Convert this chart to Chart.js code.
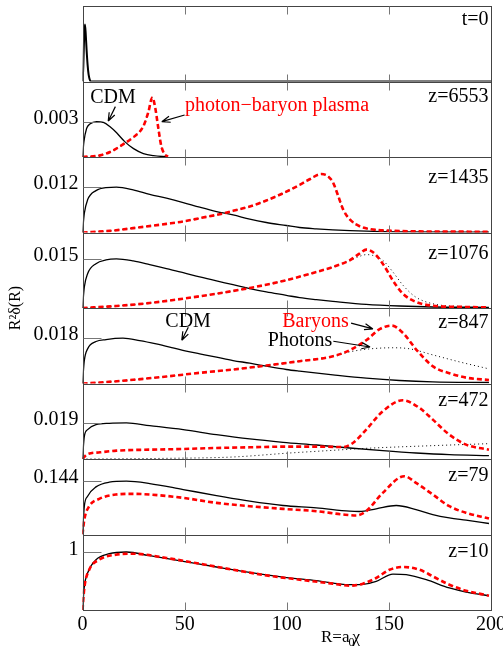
<!DOCTYPE html>
<html>
<head>
<meta charset="utf-8">
<script src="https://cdn.jsdelivr.net/npm/chart.js@4"></script>
<style>
  html, body { margin: 0; padding: 0; background: #fff; }
  canvas { display: block; }
</style>
</head>
<body>
<canvas id="chart" width="503" height="650"></canvas>
<script>
// panels, top to bottom
const panelLabels = ['t=0', 'z=6553', 'z=1435', 'z=1076', 'z=847', 'z=472', 'z=79', 'z=10'];
const tickValues = [null, 0.003, 0.012, 0.015, 0.018, 0.019, 0.144, 1];
const axisMax = [1, 0.00643, 0.02, 0.0231, 0.03, 0.0398, 0.204, 1.31];
const xTicks = [0, 50, 100, 150, 200];

// curves as [R, R^2 delta(R)]
const initial = [[0, 0], [0.4, 0.2], [0.8, 0.6], [1.2, 0.755], [1.6, 0.62], [2, 0.42], [2.5, 0.22], [3, 0.09], [3.5, 0.03], [4, 0], [200, 0]];

const cdm6553 = [[0, 0], [0.7, 0.0013], [2, 0.00243], [3.6, 0.0028], [6.9, 0.003], [10.2, 0.00294], [13.5, 0.00257], [16.7, 0.00206], [20.8, 0.00129], [25, 0.00071], [29.8, 0.00029], [34.7, 0.00011], [41.5, 0.00002]];
const plasma6553 = [[0, 0], [8.6, 0.00014], [13.5, 0.00043], [20, 0.00109], [25, 0.0017], [28, 0.00215], [30, 0.0027], [32.2, 0.0038], [34.2, 0.00506], [35.5, 0.0043], [37, 0.0026], [38.5, 0.001], [40, 0.0003], [41.8, 0.00002]];

const cdm1435 = [[0, 0], [0.9, 0.0051], [2.5, 0.00865], [6.6, 0.0111], [11.5, 0.0119], [16.6, 0.012], [24.8, 0.0113], [32.9, 0.0101], [41.1, 0.00909], [49.3, 0.00794], [57.4, 0.0067], [65.6, 0.00556], [73.7, 0.00468], [81.9, 0.00353], [90, 0.00265], [99.8, 0.00185], [106.3, 0.00132], [114.5, 0.00097], [122.6, 0.00071], [138.9, 0.00035], [155.2, 0.00018], [199, 0.00009]];
const baryon1435 = [[0, 0], [13.5, 0.00044], [24.8, 0.00115], [41.1, 0.00229], [49.3, 0.00291], [57.4, 0.00379], [67.2, 0.00485], [73.7, 0.00574], [81.9, 0.00688], [90, 0.00847], [98.2, 0.0104], [106.3, 0.0126], [111.2, 0.0141], [116.9, 0.0155], [120.4, 0.0148], [122.8, 0.0131], [125.3, 0.0095], [127.7, 0.006], [131, 0.0034], [135.9, 0.0016], [140.8, 0.0009], [150, 0.0005], [165, 0.0003], [199, 0.0002]];

const cdm1076 = [[0, 0], [0.9, 0.00643], [2.5, 0.0105], [6.6, 0.01357], [11.5, 0.0147], [16.6, 0.015], [24.8, 0.01439], [32.9, 0.01327], [41.1, 0.01204], [49.3, 0.01082], [57.4, 0.00949], [65.6, 0.00827], [73.7, 0.00714], [81.9, 0.00592], [90, 0.0049], [99.8, 0.00388], [106.3, 0.00316], [114.5, 0.00255], [122.6, 0.00204], [138.9, 0.00112], [155.2, 0.00061], [171.5, 0.00031], [199, 0.0002]];
const baryon1076 = [[0, 0], [16.6, 0.00061], [32.9, 0.00153], [49.3, 0.00286], [65.6, 0.00439], [81.9, 0.00612], [98.2, 0.00827], [114.5, 0.01102], [122.6, 0.01255], [130.8, 0.01459], [135.6, 0.01663], [138.9, 0.01786], [142.1, 0.01714], [147, 0.01357], [151.9, 0.00847], [156.8, 0.00439], [163.3, 0.00184], [171.5, 0.00071], [187.8, 0.00031], [199, 0.0002]];
const photon1076 = [[0, 0], [16.6, 0.00061], [32.9, 0.00153], [49.3, 0.00286], [65.6, 0.00439], [81.9, 0.00612], [98.2, 0.00827], [114.5, 0.01102], [122.6, 0.01255], [130.8, 0.0145], [135.6, 0.0158], [139, 0.01633], [142, 0.0161], [147, 0.0146], [152, 0.011], [157, 0.0069], [163, 0.0034], [171.5, 0.0013], [188, 0.0004], [199, 0.0002]];

const cdm847 = [[0, 0], [0.9, 0.00913], [2.5, 0.01376], [6.6, 0.01668], [11.5, 0.01747], [19.8, 0.018], [28, 0.01707], [36.1, 0.01575], [44.3, 0.01416], [50.8, 0.01284], [57.4, 0.01178], [65.6, 0.01046], [73.7, 0.00913], [81.9, 0.00807], [90, 0.00688], [99.8, 0.00556], [106.3, 0.0049], [122.6, 0.00344], [138.9, 0.00212], [155.2, 0.00119], [171.5, 0.00066], [199, 0.0004]];
const baryon847 = [[0, 0], [8.6, 0.0004], [24.8, 0.00146], [41.1, 0.00278], [57.4, 0.00424], [73.7, 0.00556], [90, 0.00715], [106.3, 0.00887], [122.6, 0.0108], [131, 0.0133], [139.1, 0.0173], [145.7, 0.0217], [151.4, 0.023], [157, 0.02], [163.6, 0.0133], [171.8, 0.0067], [180, 0.004], [188, 0.0023], [199, 0.0014]];
const photon847 = [[0, 0], [8.6, 0.0004], [24.8, 0.00146], [41.1, 0.00278], [57.4, 0.00424], [73.7, 0.00556], [90, 0.00715], [106.3, 0.00887], [122.6, 0.0108], [131, 0.0126], [140, 0.0137], [152, 0.0142], [160, 0.0138], [171.8, 0.0113], [185, 0.0085], [198, 0.006]];

const cdm472 = [[0, 0], [0.9, 0.01196], [2.5, 0.01548], [6.6, 0.01812], [13.1, 0.01882], [21.5, 0.019], [32.9, 0.01759], [49.3, 0.01548], [65.6, 0.01284], [81.9, 0.01056], [98.2, 0.0088], [114.5, 0.00739], [130.8, 0.00581], [147, 0.0044], [163.3, 0.00317], [179.6, 0.00229], [199, 0.00176]];
const baryon472 = [[0, 0], [2, 0.00229], [8.6, 0.00352], [16.6, 0.0044], [32.9, 0.00493], [49.3, 0.00528], [65.6, 0.00581], [81.9, 0.00616], [98.2, 0.00651], [114.5, 0.00651], [127.5, 0.00633], [132.4, 0.00844], [138.9, 0.01548], [147, 0.02516], [156.8, 0.03096], [165, 0.02692], [171.5, 0.02076], [179.6, 0.01284], [187.8, 0.00756], [199, 0.00493]];
const photon472 = [[0, 0], [41, 0.00035], [73.7, 0.00106], [101.5, 0.00317], [122.6, 0.00457], [138.9, 0.00563], [171.5, 0.00704], [199, 0.00809]];

const cdm79 = [[0, 0], [0.9, 0.0765], [2.5, 0.1035], [6.6, 0.1287], [13.1, 0.1413], [21.5, 0.144], [32.9, 0.1377], [49.3, 0.1215], [65.6, 0.1053], [81.9, 0.09], [98.2, 0.0783], [114.5, 0.072], [130.8, 0.063], [135.6, 0.0621], [143.8, 0.0693], [153.6, 0.0783], [163.3, 0.0675], [171.5, 0.054], [179.6, 0.045], [187.8, 0.0387], [199, 0.0297]];
const baryon79 = [[0, 0], [0.9, 0.0405], [3.3, 0.0765], [8.2, 0.0963], [16.3, 0.108], [24.8, 0.1098], [32.9, 0.108], [49.3, 0.099], [65.6, 0.0855], [81.9, 0.0765], [98.2, 0.0693], [114.5, 0.063], [127.5, 0.054], [134, 0.0513], [138.9, 0.063], [147, 0.1125], [157.6, 0.1575], [163.3, 0.1395], [171.5, 0.108], [179.6, 0.0765], [187.8, 0.0585], [199, 0.0432]];

const cdm10 = [[0, 0], [0.9, 0.41], [2.5, 0.642], [6.6, 0.873], [13.1, 0.977], [21.5, 1.006], [32.9, 0.942], [49.3, 0.844], [65.6, 0.746], [81.9, 0.653], [98.2, 0.572], [114.5, 0.509], [130.8, 0.439], [137.3, 0.445], [143.8, 0.497], [152, 0.624], [158.5, 0.613], [168.3, 0.526], [179.6, 0.382], [187.8, 0.312], [199, 0.249]];
const baryon10 = [[0, 0], [0.9, 0.382], [3.3, 0.699], [8.2, 0.873], [16.3, 0.96], [24.8, 0.977], [41.1, 0.902], [57.4, 0.803], [73.7, 0.699], [90, 0.601], [106.3, 0.526], [122.6, 0.457], [130.8, 0.422], [137.3, 0.457], [143.8, 0.555], [150.3, 0.699], [156.8, 0.746], [165, 0.699], [171.5, 0.584], [179.6, 0.439], [187.8, 0.335], [199, 0.249]];

// which curves go in which panel (photons overlap the plasma before decoupling)
const panelCurves = [
  [['cdm', initial]],
  [['baryon', plasma6553], ['cdm', cdm6553], ['photon', plasma6553]],
  [['baryon', baryon1435], ['cdm', cdm1435], ['photon', baryon1435]],
  [['baryon', baryon1076], ['cdm', cdm1076], ['photon', photon1076]],
  [['baryon', baryon847], ['cdm', cdm847], ['photon', photon847]],
  [['baryon', baryon472], ['cdm', cdm472], ['photon', photon472]],
  [['baryon', baryon79], ['cdm', cdm79]],
  [['baryon', baryon10], ['cdm', cdm10]],
];

// text annotations, placed in the data units of their panel
const notes = [
  { panel: 1, text: 'CDM', color: '#000', align: 'center', at: [14.9, 0.00503], arrow: [[16.1, 0.00429], [12.6, 0.00305]] },
  { panel: 1, text: 'photon\u2212baryon plasma', color: '#ff0000', align: 'left', at: [50.2, 0.00435], arrow: [[50, 0.00358], [38.8, 0.00301]] },
  { panel: 4, text: 'CDM', color: '#000', align: 'center', at: [51.7, 0.0246], arrow: [[51.8, 0.02233], [48.6, 0.0172]] },
  { panel: 4, text: 'Baryons', color: '#ff0000', align: 'center', at: [114.1, 0.0244], arrow: [[131.5, 0.024], [142.2, 0.0217]] },
  { panel: 4, text: 'Photons', color: '#000', align: 'center', at: [106.5, 0.0169], arrow: [[122.8, 0.0168], [140.8, 0.0145]] },
];

const labelDy = [14, 15, 21, 21, 15, 17, 17, 17];
const serif = '"Liberation Serif", "Times New Roman", serif';

const styles = {
  cdm: { borderColor: '#000', borderWidth: 1.3, borderDash: [] },
  baryon: { borderColor: '#ff0000', borderWidth: 2.6, borderDash: [5, 3] },
  photon: { borderColor: '#000', borderWidth: 1, borderDash: [1, 3] },
};

const datasets = [];
panelCurves.forEach((curves, i) => {
  curves.forEach(([kind, data]) => {
    datasets.push(Object.assign({
      data: data,
      yAxisID: 'y' + i,
      pointRadius: 0,
      fill: false,
      cubicInterpolationMode: 'monotone',
    }, styles[kind], i === 0 ? { borderWidth: 2 } : {}));
  });
});

const scales = {
  x: {
    type: 'linear',
    position: 'bottom',
    min: 0,
    max: 200,
    afterBuildTicks: s => { s.ticks = xTicks.map(v => ({ value: v })); },
    grid: { display: false, drawTicks: false },
    border: { display: false },
    ticks: { color: '#000', font: { family: serif, size: 20 }, padding: 3, maxRotation: 0, autoSkip: false },
    afterFit: s => { s.height = 40; s.paddingLeft = 0; s.paddingRight = 0; },
  },
};
// stacked axes are placed bottom-up, so add the lowest panel first
for (let i = panelLabels.length - 1; i >= 0; i--) {
  scales['y' + i] = {
    type: 'linear',
    position: 'left',
    stack: 'panels',
    stackWeight: 1,
    min: 0,
    max: axisMax[i],
    afterBuildTicks: s => { s.ticks = tickValues[i] === null ? [] : [{ value: tickValues[i] }]; },
    grid: { display: false, drawTicks: false },
    border: { display: false },
    ticks: { color: '#000', font: { family: serif, size: 20 }, padding: 4, labelOffset: -3, callback: v => String(v) },
    afterFit: s => { s.width = 82.5; s.paddingTop = 0; s.paddingBottom = 0; },
  };
}

function arrowHead(ctx, x0, y0, x1, y1) {
  const a = Math.atan2(y1 - y0, x1 - x0);
  const len = 9, spread = 0.35;
  ctx.moveTo(x1, y1);
  ctx.lineTo(x1 - len * Math.cos(a - spread), y1 - len * Math.sin(a - spread));
  ctx.moveTo(x1, y1);
  ctx.lineTo(x1 - len * Math.cos(a + spread), y1 - len * Math.sin(a + spread));
}

const panelDecor = {
  id: 'panelDecor',
  afterDatasetsDraw(chart) {
    const ctx = chart.ctx;
    const x = chart.scales.x;
    const left = Math.round(x.left) + 0.5;
    const right = Math.round(x.right) + 0.5;
    ctx.save();
    panelLabels.forEach((label, i) => {
      const y = chart.scales['y' + i];
      const top = Math.round(y.top) + 0.5;
      const bottom = Math.round(y.bottom) + 0.5;
      ctx.lineWidth = 1;
      ctx.strokeStyle = '#444';
      ctx.strokeRect(left, top, right - left, bottom - top);
      ctx.strokeStyle = '#777';
      ctx.beginPath();
      xTicks.slice(1, -1).forEach(v => {
        const px = Math.round(x.getPixelForValue(v)) + 0.5;
        ctx.moveTo(px, top);
        ctx.lineTo(px, top + 8);
        ctx.moveTo(px, bottom - 8);
        ctx.lineTo(px, bottom);
      });
      if (tickValues[i] !== null) {
        const py = Math.round(y.getPixelForValue(tickValues[i])) + 0.5;
        ctx.moveTo(left, py);
        ctx.lineTo(left + 18, py);
      }
      ctx.stroke();
      ctx.fillStyle = '#000';
      ctx.font = '20px ' + serif;
      ctx.textAlign = 'right';
      ctx.textBaseline = 'middle';
      ctx.fillText(label, right - 3, y.top + labelDy[i]);
    });

    notes.forEach(n => {
      const y = chart.scales['y' + n.panel];
      ctx.fillStyle = n.color;
      ctx.font = '20px ' + serif;
      ctx.textAlign = n.align;
      ctx.textBaseline = 'middle';
      ctx.fillText(n.text, x.getPixelForValue(n.at[0]), y.getPixelForValue(n.at[1]));
      const [p0, p1] = n.arrow;
      const x0 = x.getPixelForValue(p0[0]), y0 = y.getPixelForValue(p0[1]);
      const x1 = x.getPixelForValue(p1[0]), y1 = y.getPixelForValue(p1[1]);
      ctx.strokeStyle = '#000';
      ctx.lineWidth = 1.2;
      ctx.beginPath();
      ctx.moveTo(x0, y0);
      ctx.lineTo(x1, y1);
      arrowHead(ctx, x0, y0, x1, y1);
      ctx.stroke();
    });

    // axis titles
    ctx.fillStyle = '#000';
    ctx.textBaseline = 'alphabetic';
    ctx.textAlign = 'left';
    ctx.font = '17px ' + serif;
    const tx = 321;
    const ty = 642;
    ctx.fillText('R=a', tx, ty);
    const w = ctx.measureText('R=a').width;
    ctx.font = '12px ' + serif;
    ctx.fillText('0', tx + w - 1, ty + 4);
    ctx.font = '17px ' + serif;
    ctx.fillText('\u03c7', tx + w + 3, ty);

    ctx.translate(20, 308);
    ctx.rotate(-Math.PI / 2);
    ctx.textAlign = 'center';
    ctx.textBaseline = 'alphabetic';
    ctx.font = '16px ' + serif;
    ctx.fillText('R\u00b2\u03b4(R)', 0, 0);
    ctx.restore();
  },
};

new Chart(document.getElementById('chart'), {
  type: 'line',
  data: { datasets },
  options: {
    responsive: false,
    animation: false,
    devicePixelRatio: 1,
    events: [],
    layout: { padding: { top: 6, right: 12, left: 0, bottom: 0 } },
    plugins: { legend: { display: false }, tooltip: { enabled: false } },
    scales,
  },
  plugins: [panelDecor],
});
</script>
</body>
</html>
